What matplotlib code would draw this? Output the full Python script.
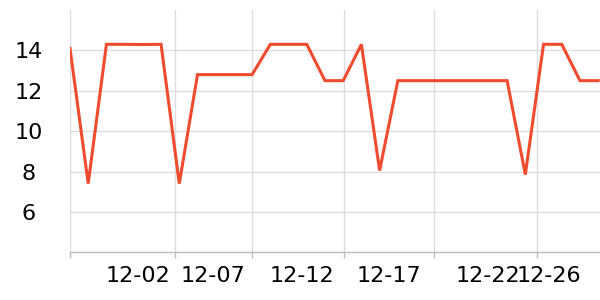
import matplotlib
matplotlib.use('Agg')
from matplotlib import pyplot as plt
import numpy as np

# series values, one per category slot
values = [14.1, 7.4, 14.3, 14.3, 14.29, 14.3, 7.4, 12.8, 12.8, 12.8,
          12.8, 14.3, 14.3, 14.3, 12.5, 12.5, 14.3, 8.05, 12.5, 12.5,
          12.5, 12.5, 12.5, 12.5, 12.5, 7.85, 14.3, 14.3, 12.5, 12.5]
date_labels = ['12-02', '12-07', '12-12', '12-17', '12-22', '12-26']
y_ticks = [6, 8, 10, 12, 14]

# layout: where the axis puts grid lines and labels (in slot units)
grid_pos = [0, 5.79, 10.02, 15.07, 19.96, 25.62]
label_pos = [3.73, 7.87, 12.73, 17.49, 22.93, 26.32]

fig = plt.figure(figsize=(6, 3), dpi=100)
ax = fig.add_axes([70 / 600, 1 - 252.3 / 300, 530 / 600, (252.3 - 10) / 300])

x = np.arange(len(values))
ax.plot(x, values, color='#ef4b2e', lw=2.2, solid_joinstyle='miter', clip_on=True)

ax.set_xlim(0, 29.1)
ax.set_ylim(4, 16)

ax.set_yticks(y_ticks)
ax.tick_params(axis='y', length=0, pad=29.9, labelsize=16)
for lbl in ax.get_yticklabels():
    lbl.set_horizontalalignment('center')

ax.set_xticks(grid_pos)
ax.set_xticklabels([''] * len(grid_pos))
ax.set_xticks(label_pos, minor=True)
ax.set_xticklabels(date_labels, minor=True)
ax.tick_params(axis='x', which='major', length=4, color='#bbbbbb', width=1)
ax.tick_params(axis='x', which='minor', length=0, pad=10, labelsize=16)

ax.grid(True, which='major', color='#dddddd', lw=1)
ax.set_axisbelow(True)
for s in ['top', 'right', 'left']:
    ax.spines[s].set_visible(False)
ax.spines['bottom'].set_color('#bbbbbb')
ax.spines['bottom'].set_linewidth(1)

fig.savefig('out.png', dpi=100)
